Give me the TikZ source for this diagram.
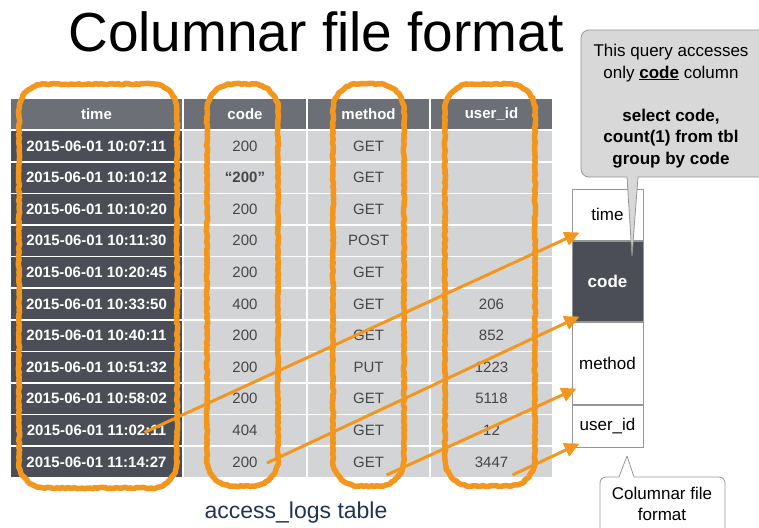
\documentclass[tikz,border=0pt]{standalone}
\usepackage{fontspec}
\setmainfont{Liberation Sans}
\usetikzlibrary{arrows.meta,calc,decorations.pathmorphing}
\definecolor{hdrgray}{RGB}{108,111,118}
\definecolor{darkcell}{RGB}{75,78,87}
\definecolor{lightcell}{RGB}{211,212,214}
\definecolor{celltext}{RGB}{70,70,70}
\definecolor{loopor}{RGB}{242,150,30}
\definecolor{bubble}{RGB}{216,216,216}
\definecolor{framegray}{RGB}{150,150,150}
\definecolor{navy}{RGB}{30,52,88}

\begin{document}
\begin{tikzpicture}
  [x=1pt,y=-1pt,
   cell/.style={draw=white,line width=1.5pt,minimum height=31.6pt,inner sep=0pt,font=\fontsize{15}{18}\selectfont},
   hdr/.style={cell,fill=hdrgray,text=white,font=\fontsize{15}{18}\selectfont\bfseries},
   tcell/.style={cell,fill=darkcell,text=white,minimum width=173pt,font=\fontsize{15}{18}\selectfont\bfseries},
   lcell/.style={cell,fill=lightcell,text=celltext},
   colloop/.style={draw=loopor,line width=5.5pt,line join=round,decoration={random steps,segment length=2.5pt,amplitude=0.7pt}},
   feed/.style={draw=loopor,line width=3pt,-{Triangle[length=15pt,width=14pt]}},
   fpart/.style={draw=framegray,line width=1pt,minimum width=71pt,inner sep=0pt,font=\fontsize{17}{20}\selectfont},
   bubbleline/.style={draw=framegray,line width=0.8pt,line join=round}]
  \useasboundingbox (0,0) rectangle (759,527);

  \node[font=\fontsize{55}{60}\selectfont,anchor=base] (title) at (316,52) {Columnar file format};

  \node[hdr,minimum width=173pt] (htime) at (96.5,114) {time};
  \node[hdr,minimum width=124pt] (hcode) at (245,114) {code};
  \node[hdr,minimum width=123pt] (hmethod) at (368.5,114) {method};
  \node[hdr,minimum width=122pt] (huser) at (491.5,114) {user\_id};

  \foreach \i/\t/\c/\m/\u in {1/10:07:11/200/GET/{},2/10:10:12/\textbf{“200”}/GET/{},3/10:10:20/200/GET/{},
      4/10:11:30/200/POST/{},5/10:20:45/200/GET/{},6/10:33:50/400/GET/206,7/10:40:11/200/GET/852,
      8/10:51:32/200/PUT/1223,9/10:58:02/200/GET/5118,10/11:02:11/404/GET/12,11/11:14:27/200/GET/3447}
  {
    \node[tcell] (t\i) at (96.5,{146+(\i-1)*31.6}) {2015-06-01 \t};
    \node[lcell,minimum width=124pt] (c\i) at (245,{146+(\i-1)*31.6}) {\c};
    \node[lcell,minimum width=123pt] (m\i) at (368.5,{146+(\i-1)*31.6}) {\m};
    \node[lcell,minimum width=122pt] (u\i) at (491.5,{146+(\i-1)*31.6}) {\u};
  }

  \foreach \xa/\xb/\yb in {19/177/488,207/278/486,333/404/486,445/535/486}
    \draw[colloop] decorate {[rounded corners=26pt] (\xa,84) rectangle (\xb,\yb)};

  \node[text=navy,font=\fontsize{23}{26}\selectfont,anchor=base] (tblname) at (296,518) {access\_logs table};

  \node[fpart,minimum height=51pt] (ftime) at (607.5,214.5) {time};
  \node[fpart,minimum height=80pt,fill=darkcell,text=white,font=\fontsize{17}{20}\selectfont\bfseries,anchor=north] (fcode) at (ftime.south) {code};
  \node[fpart,minimum height=82pt,anchor=north] (fmethod) at (fcode.south) {method};
  \node[fpart,minimum height=42pt,anchor=north] (fuser) at (fmethod.south) {user\_id};

  \draw[feed] ($(t10.center)+(48,2)$) -- ($(ftime.south west)+(8,-8)$);
  \draw[feed] ($(c11.center)+(22,1)$) -- ($(fcode.south west)+(8,-5)$);
  \draw[feed] ($(m11.center)+(18,13)$) -- ($(fmethod.south west)+(5,-16)$);
  \draw[feed] ($(u11.center)+(21,13)$) -- ($(fuser.south west)+(8,-4)$);

  \draw[bubbleline,fill=bubble] (632,256) -- (627,177) -- (619,177) [rounded corners=8pt] -- (581,177) -- (581,30)
    -- (775,30) -- (775,177) -- (650,177) [sharp corners] -- (638,177) -- cycle;
  \node[align=center,font=\fontsize{17}{21.5}\selectfont] (query) at (671,106)
    {This query accesses\\only \textbf{\underline{code}} column\\[21.5pt]\textbf{select code,}\\\textbf{count(1) from tbl}\\\textbf{group by code}};

  \draw[bubbleline,fill=white] (627,456) -- (634,477) -- (645,477) [rounded corners=6pt] -- (725,477) -- (725,540)
    -- (600,540) -- (600,477) -- (612,477) [sharp corners] -- (619,477) -- cycle;
  \node[align=center,font=\fontsize{17}{21}\selectfont] (fmtlabel) at (662,504) {Columnar file\\format};
\end{tikzpicture}
\end{document}
